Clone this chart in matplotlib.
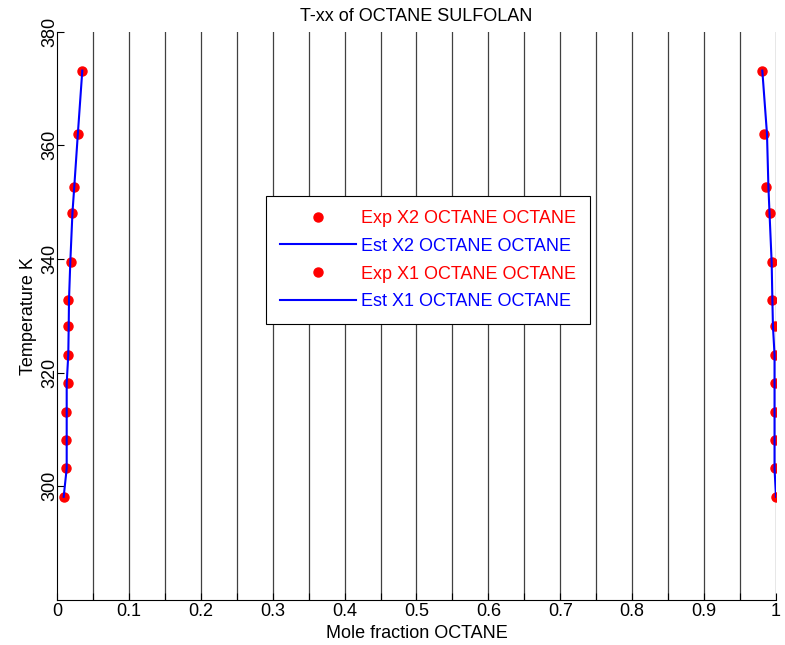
import matplotlib.pyplot as plt
import numpy as np

plt.rcParams['font.family'] = ['Liberation Sans', 'DejaVu Sans']

# Temperatures (K) of the measured points
temp = [373.15, 362.0, 352.65, 348.15, 339.4, 332.8, 328.15, 323.15,
        318.15, 313.15, 308.15, 303.15, 298.15]

# Experimental and estimated mole fractions
exp_x2 = [0.0344, 0.0292, 0.0232, 0.0209, 0.0191, 0.0149, 0.0149, 0.0149,
          0.0149, 0.0125, 0.0125, 0.0125, 0.0093]
est_x2 = [0.0352, 0.0290, 0.0240, 0.0215, 0.0185, 0.0167, 0.0163, 0.0157,
          0.0135, 0.0135, 0.0135, 0.0135, 0.0093]
exp_x1 = [0.9810, 0.9830, 0.9860, 0.9920, 0.9950, 0.9950, 0.9980, 0.9980,
          0.9980, 0.9980, 0.9980, 0.9980, 1.0000]
est_x1 = [0.9810, 0.9875, 0.9895, 0.9910, 0.9940, 0.9950, 0.9958, 0.9980,
          0.9980, 0.9980, 0.9980, 0.9980, 1.0000]

fig = plt.figure(figsize=(7.85, 6.45), dpi=100)
ax = fig.add_axes([0.0726, 0.0698, 0.9159, 0.8811])

# vertical grid lines every 0.05
for gx in np.arange(0.05, 1.0001, 0.05):
    ax.axvline(gx, color='0.25', lw=0.9, zorder=1)

ax.plot(exp_x2, temp, 'o', color='red', ms=6.5, mec='red', zorder=3,
        label='Exp X2 OCTANE OCTANE')
ax.plot(est_x2, temp, '-', color='blue', lw=1.5, zorder=4,
        label='Est X2 OCTANE OCTANE')
ax.plot(exp_x1, temp, 'o', color='red', ms=6.5, mec='red', zorder=3,
        label='Exp X1 OCTANE OCTANE')
ax.plot(est_x1, temp, '-', color='blue', lw=1.5, zorder=4,
        label='Est X1 OCTANE OCTANE')

ax.set_xlim(0, 1)
ax.set_ylim(280, 380)
ax.set_xticks(np.arange(0, 1.01, 0.1))
ax.set_xticklabels(['0', '0.1', '0.2', '0.3', '0.4', '0.5', '0.6', '0.7',
                    '0.8', '0.9', '1'])
ax.set_xticks(np.arange(0.05, 1.0, 0.1), minor=True)
ax.set_yticks([300, 320, 340, 360, 380])
ax.tick_params(axis='both', which='both', direction='in', length=5,
               labelsize=13, width=0.8)
ax.tick_params(axis='x', pad=2)
ax.tick_params(axis='y', pad=-1)
for lbl in ax.get_yticklabels():
    lbl.set_rotation(90)
    lbl.set_va('center')

for s in ['top', 'right']:
    ax.spines[s].set_visible(False)

ax.set_xlabel('Mole fraction OCTANE', fontsize=13, labelpad=4)
ax.set_ylabel('Temperature K', fontsize=13, labelpad=3)
ax.set_title('T-xx of OCTANE SULFOLAN', fontsize=13, pad=8)

leg = ax.legend(loc='center', bbox_to_anchor=(0.516, 0.598), fontsize=13,
                numpoints=1, handlelength=4.2, labelspacing=0.6,
                fancybox=False, framealpha=1, edgecolor='black',
                borderpad=0.75, handletextpad=0.3, borderaxespad=0)
leg.get_frame().set_linewidth(0.8)
for txt, c in zip(leg.get_texts(), ['red', 'blue', 'red', 'blue']):
    txt.set_color(c)

fig.savefig('out.png', dpi=100)
